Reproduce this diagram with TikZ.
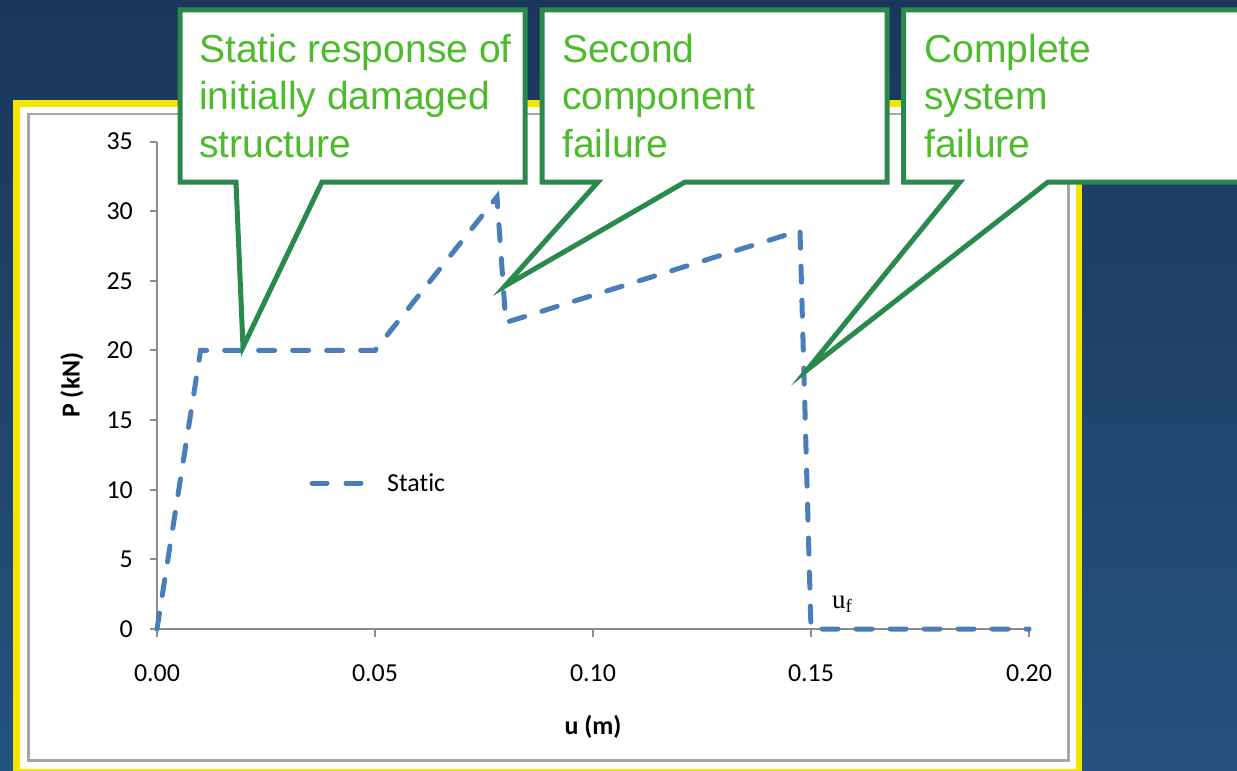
\documentclass[tikz,border=0pt]{standalone}
\usepackage{fontspec}
\setmainfont{Liberation Sans}
\newfontfamily\calibri[Ligatures=NoCommon]{Carlito}
\newfontfamily\ufont{Liberation Serif}
\definecolor{navytop}{HTML}{1B365A}
\definecolor{navybottom}{HTML}{25527E}
\definecolor{panelyellow}{HTML}{F2E600}
\definecolor{framegray}{HTML}{A6A6A6}
\definecolor{axisgray}{HTML}{8C8C8C}
\definecolor{staticblue}{HTML}{4A7EBB}
\definecolor{callgreen}{HTML}{2A8A4E}
\definecolor{calltextgreen}{HTML}{4DBB2C}
\tikzset{
  callout/.style={draw=callgreen, line width=5bp, fill=white, line join=miter},
  calltext/.style={text=calltextgreen, align=left, anchor=north west, inner sep=0pt,
    font=\fontsize{39.2}{47.5}\selectfont},
  ticklabel/.style={inner sep=0pt, font=\calibri\fontsize{26}{31}\selectfont},
  axislabel/.style={inner sep=0pt, font=\calibri\bfseries\fontsize{26}{31}\selectfont},
  axis/.style={draw=axisgray, line width=2bp},
  static/.style={draw=staticblue, line width=5bp, line cap=round, dash pattern=on 16bp off 18bp},
}
\begin{document}
\begin{tikzpicture}[x=1bp,y=-1bp]

   \useasboundingbox (0,0) rectangle (1237,771);
   \clip (0,0) rectangle (1237,771);
   \shade [top color=navytop, bottom color=navybottom] (0,0) rectangle (1237,771);
   \draw [draw=panelyellow, line width=6.5bp, fill=white] (16.5,103.5) rectangle (1079,772);
   \draw [draw=framegray, line width=2.5bp] (28.5,114) rectangle (1068.5,760.5);

   \coordinate (O) at (157,629);
   \coordinate (Ytop) at (157,141.5);
   \coordinate (Xend) at (1029,629);

   \node (y0) at (133,629) [ticklabel, anchor=east] {0};
   \node (y5) at (133,559.4) [ticklabel, anchor=east] {5};
   \node (y10) at (133,489.7) [ticklabel, anchor=east] {10};
   \node (y15) at (133,420.1) [ticklabel, anchor=east] {15};
   \node (y20) at (133,350.4) [ticklabel, anchor=east] {20};
   \node (y25) at (133,280.8) [ticklabel, anchor=east] {25};
   \node (y30) at (133,211.1) [ticklabel, anchor=east] {30};
   \node (y35) at (133,141.5) [ticklabel, anchor=east] {35};

   \node (x000) at (157,673) [ticklabel] {0.00};
   \node (x005) at (375,673) [ticklabel] {0.05};
   \node (x010) at (593,673) [ticklabel] {0.10};
   \node (x015) at (811,673) [ticklabel] {0.15};
   \node (x020) at (1029,673) [ticklabel] {0.20};

   \node (Plabel) at (72,385) [axislabel, rotate=90] {P (kN)};
   \node (ulabel) at (593,727) [axislabel] {u (m)};

   \draw [axis] (Ytop) -- (O) -- (Xend);
   \draw [axis] (150,629) -- (O) -- (157,637);
   \draw [axis] (150,559.4) -- (157,559.4);
   \draw [axis] (150,489.7) -- (157,489.7);
   \draw [axis] (150,420.1) -- (157,420.1);
   \draw [axis] (150,350.4) -- (157,350.4);
   \draw [axis] (150,280.8) -- (157,280.8);
   \draw [axis] (150,211.1) -- (157,211.1);
   \draw [axis] (150,141.5) -- (157,141.5);
   \draw [axis] (375,629) -- (375,637);
   \draw [axis] (593,629) -- (593,637);
   \draw [axis] (811,629) -- (811,637);
   \draw [axis] (1029,629) -- (1029,637);

   \coordinate (yield) at (200.6,350.4);
   \coordinate (plateau) at (375,350.4);
   \coordinate (peak) at (497,197);
   \coordinate (drop) at (505.8,322.5);
   \coordinate (peaktwo) at (800,230.6);
   \coordinate (uf) at (811,629);

   \draw [static] (O) -- (yield) -- (plateau) -- (peak) -- (drop) -- (peaktwo) -- (uf) -- (Xend);

   \coordinate (legA) at (312,483);
   \coordinate (legB) at (361,483);
   \draw [static, dash pattern=on 15bp off 19bp] (legA) -- (legB);
   \node (Static) at (387,483) [ticklabel, anchor=west] {Static};

   \node (uflabel) at (832,608) [anchor=base west, inner sep=0pt, font=\ufont\fontsize{27}{30}\selectfont] {u\textsubscript{f}};

   \coordinate (tipone) at (243,347);
   \coordinate (tiptwo) at (505,286);
   \coordinate (tipthree) at (807,370);

   \draw [callout] (180,10) -- (525,10) -- (525,182) -- (322,182) -- (tipone) -- (236,182) -- (180,182) -- cycle;
   \draw [callout] (542,10) -- (887,10) -- (887,182) -- (685,182) -- (tiptwo) -- (598,182) -- (542,182) -- cycle;
   \draw [callout] (903.5,10) -- (1260,10) -- (1260,182) -- (1048,182) -- (tipthree) -- (960,182) -- (903.5,182) -- cycle;

   \node (Damaged) at (199,34) [calltext] {Static response of\\initially damaged\\structure};
   \node (Second) at (562,34) [calltext] {Second\\component\\failure};
   \node (Complete) at (924,34) [calltext] {Complete\\system\\failure};

\end{tikzpicture}
\end{document}
